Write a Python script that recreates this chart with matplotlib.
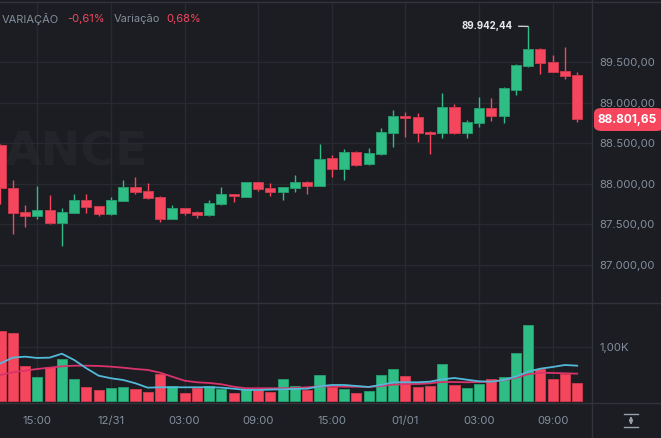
import matplotlib
matplotlib.use('Agg')
import matplotlib.pyplot as plt
from matplotlib.lines import Line2D
from matplotlib.patches import FancyBboxPatch

plt.rcParams['font.family'] = ['Inter', 'DejaVu Sans']

# ---------------- data ----------------
opens = [88480, 87953, 87650, 87604, 87678, 87521, 87645, 87798, 87727, 87629,
         87793, 87958, 87913, 87842, 87571, 87699, 87653, 87613, 87756, 87875,
         87842, 88020, 87946, 87904, 87953, 88027, 87974, 88316, 88180, 88394,
         88242, 88365, 88632, 88841, 88829, 88640, 88624, 88945, 88624, 88748,
         88933, 88838, 89158, 89454, 89664, 89500, 89396, 89343]
highs = [88490, 88048, 87740, 87974, 87863, 87706, 87872, 87872, 87730, 87838,
         88048, 88081, 88007, 87850, 87740, 87705, 87666, 87798, 87958, 87880,
         88025, 88025, 88007, 87962, 88110, 88030, 88492, 88357, 88427, 88400,
         88443, 88693, 88912, 88887, 88871, 88656, 89118, 88982, 88788, 89068,
         89056, 89192, 89479, 89942.44, 89673, 89590, 89685, 89380]
lows = [87758, 87382, 87472, 87563, 87505, 87238, 87640, 87645, 87608, 87617,
        87790, 87879, 87814, 87534, 87565, 87617, 87583, 87610, 87744, 87781,
        87840, 87913, 87851, 87798, 87904, 87872, 87970, 88089, 88048, 88221,
        88238, 88360, 88459, 88582, 88513, 88369, 88570, 88620, 88570, 88706,
        88780, 88748, 89097, 89446, 89352, 89377, 89298, 88767]
closes = [87949, 87637, 87604, 87678, 87521, 87657, 87798, 87711, 87629, 87805,
          87958, 87896, 87830, 87571, 87699, 87641, 87617, 87764, 87875, 87851,
          88020, 87933, 87904, 87958, 88024, 87974, 88311, 88180, 88394, 88233,
          88378, 88644, 88838, 88813, 88628, 88616, 88945, 88624, 88760, 88933,
          88841, 89179, 89467, 89664, 89488, 89384, 89335, 88801.65]
volumes = [1285, 1248, 637, 439, 618, 772, 396, 248, 198, 241,
           248, 217, 167, 489, 278, 137, 241, 278, 222, 142,
           222, 198, 167, 396, 266, 198, 481, 248, 222, 142,
           180, 481, 593, 457, 259, 266, 674, 296, 235, 304,
           396, 444, 889, 1402, 581, 402, 494, 322]
vol_ma_fast = [692, 797, 815, 791, 797, 870, 754, 600, 463, 415,
               383, 322, 241, 248, 248, 248, 248, 250, 241, 222,
               198, 198, 205, 211, 218, 222, 266, 291, 291, 272,
               254, 291, 341, 341, 341, 352, 396, 420, 389, 359,
               352, 383, 444, 537, 593, 624, 661, 648]
vol_ma_slow = [476, 526, 556, 587, 611, 637, 648, 648, 643, 630,
               611, 587, 569, 519, 444, 370, 341, 328, 304, 259,
               230, 230, 230, 230, 235, 248, 266, 266, 259, 259,
               254, 272, 296, 309, 309, 322, 346, 346, 341, 346,
               352, 378, 426, 489, 519, 513, 507, 500]
time_tick_idx = [3, 9, 15, 21, 27, 33, 39, 45]
time_tick_labels = ['15:00', '12/31', '03:00', '09:00', '15:00', '01/01', '03:00', '09:00']
price_ticks = [87000, 87500, 88000, 88500, 89000, 89500]
price_tick_labels = ['87.000,00', '87.500,00', '88.000,00', '88.500,00', '89.000,00', '89.500,00']
vol_ticks = [1000]
vol_tick_labels = ['1,00K']
last_price_label = '88.801,65'
max_price_label = '89.942,44'
legend_items = [('VARIAÇÃO', '-0,61%'), ('Variação', '0,68%')]
watermark = 'ANCE'

# ---------------- style ----------------
BG = '#1b1d22'
GRID = '#272a30'
BORDER = '#30333a'
GREEN = '#2ebd85'
RED = '#f6465d'
GREEN_E = '#249a6c'
RED_E = '#c93a4d'
TXT = '#848e9c'
CYAN = '#52b9d8'
PINK = '#d8336a'

W, H = 661, 438
fig = plt.figure(figsize=(W / 100, H / 100), dpi=100)
fig.patch.set_facecolor(BG)


def ax_px(x0, y0, x1, y1):
    return fig.add_axes([x0 / W, 1 - y1 / H, (x1 - x0) / W, (y1 - y0) / H])


def fy(y):
    return 1 - y / H


def fx(x):
    return x / W


PX_PER_IDX = 12.27
XL = (-0.5 / PX_PER_IDX, (592 - 0.5) / PX_PER_IDX)

axp = ax_px(0, 3, 592, 303)
axv = ax_px(0, 303, 592, 403)
for ax in (axp, axv):
    ax.set_facecolor(BG)
    for s in ax.spines.values():
        s.set_visible(False)
    ax.set_xlim(*XL)
    ax.set_xticks(time_tick_idx)
    ax.grid(True, color=GRID, linewidth=1.0)
    ax.set_axisbelow(True)
    ax.yaxis.tick_right()
    ax.tick_params(length=0, colors=TXT, labelsize=8)

# watermark (faint, behind the candles)
axp.text(5, fy(152.5) * H - 3 * 0, watermark, transform=None, fontsize=34,
         fontweight='bold', color='#222429', ha='left', va='center',
         family='DejaVu Sans', zorder=0.5)

# price panel
p_top = 89500 + 59.3 * 12.335
p_bot = 89500 - 240.7 * 12.335
axp.set_ylim(p_bot, p_top)
axp.set_yticks(price_ticks)
axp.set_yticklabels(price_tick_labels)
axp.tick_params(axis='y', pad=5.2, labelsize=8.2)
axp.tick_params(axis='x', labelbottom=False)

xs = list(range(len(opens)))
for i in xs:
    o, h, l, c = opens[i], highs[i], lows[i], closes[i]
    up = c >= o
    col = GREEN if up else RED
    ecol = GREEN_E if up else RED_E
    axp.vlines(i, l, h, color=col, linewidth=1.0, zorder=2)
    bottom = min(o, c)
    height = max(abs(c - o), 12)
    axp.bar(i, height, bottom=bottom, width=0.82, color=col, edgecolor=ecol,
            linewidth=0.7, zorder=3)

# max annotation
imax = highs.index(max(highs))
axp.annotate(max_price_label, xy=(imax, max(highs)), xytext=(513, fy(25.7) * H),
             textcoords='figure pixels', ha='right', va='center', fontsize=7,
             color='#e6e8ea', fontweight='bold',
             arrowprops=dict(arrowstyle='-', color='#c8ccd0', lw=1.0,
                             shrinkA=2, shrinkB=0))

# volume panel
axv.set_ylim(-43, 1809)
axv.set_yticks(vol_ticks)
axv.set_yticklabels(vol_tick_labels)
axv.tick_params(axis='y', pad=5.2, labelsize=8.2)
vcols = [GREEN if closes[i] >= opens[i] else RED for i in xs]
vecols = [GREEN_E if closes[i] >= opens[i] else RED_E for i in xs]
axv.bar(xs, volumes, width=0.82, color=vcols, edgecolor=vecols, linewidth=0.7, zorder=2)
axv.plot(xs, vol_ma_slow, color=PINK, linewidth=1.3, zorder=3)
axv.plot(xs, vol_ma_fast, color=CYAN, linewidth=1.3, zorder=4)
axv.set_xticklabels(time_tick_labels)
axv.tick_params(axis='x', pad=9.5, labelsize=8.2)

# borders
for (x0, y0, x1, y1) in [(0, 2, W, 2), (0, 303, W, 303), (0, 403, W, 403), (592, 0, 592, H)]:
    fig.add_artist(Line2D([fx(x0), fx(x1)], [fy(y0), fy(y1)], color=BORDER, linewidth=1.0))

# last price tag
tag = FancyBboxPatch((fx(594), fy(131)), fx(70), (131 - 108) / H,
                     boxstyle='round,pad=0,rounding_size=0.012', transform=fig.transFigure,
                     facecolor=RED, edgecolor='none')
fig.add_artist(tag)
fig.text(fx(627.5), fy(119.5), last_price_label, color='white', fontsize=8.6,
         fontweight='bold', ha='center', va='center')

# legend
xpos = [2, 67, 114, 166]
k = 0
for name, val in legend_items:
    fig.text(fx(xpos[k]), fy(19), name, color=TXT, fontsize=8, ha='left', va='center')
    fig.text(fx(xpos[k + 1]), fy(19), val, color=RED, fontsize=8, ha='left', va='center')
    k += 2

# auto-scale icon
icol = '#9aa0a8'
fig.add_artist(Line2D([fx(624), fx(638)], [fy(414), fy(414)], color=icol, lw=1.0))
fig.add_artist(Line2D([fx(624), fx(638)], [fy(427), fy(427)], color=icol, lw=1.0))
fig.add_artist(plt.Annotation('', xy=(fx(631), fy(416)), xytext=(fx(631), fy(425)),
                              xycoords='figure fraction', textcoords='figure fraction',
                              arrowprops=dict(arrowstyle='<|-|>', color=icol, lw=1.0,
                                              mutation_scale=5, shrinkA=0, shrinkB=0)))

fig.savefig('out.png', dpi=100, facecolor=BG)
